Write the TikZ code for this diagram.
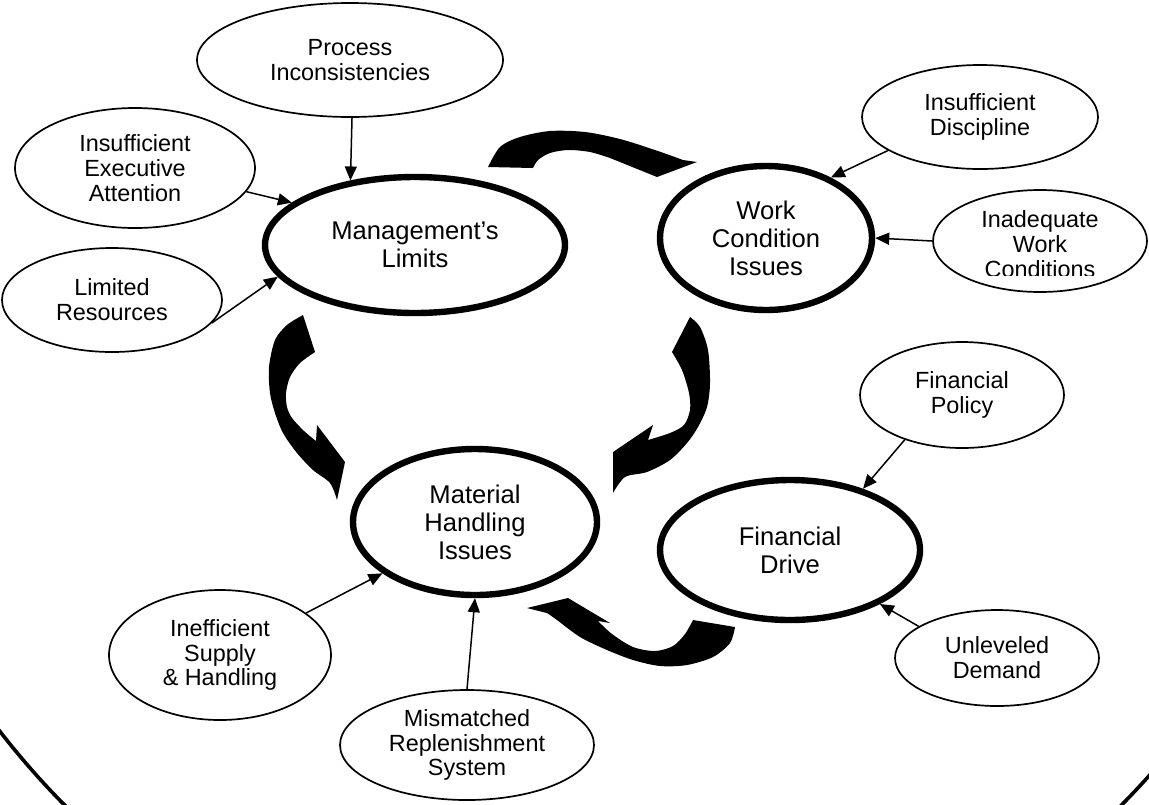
\documentclass[tikz,border=0pt]{standalone}
\usepackage{fontspec}
\setmainfont{Liberation Sans}
\usetikzlibrary{shapes.geometric,arrows.meta}
\begin{document}
\begin{tikzpicture}[x=0.5pt,y=-0.5pt,
  cause/.style={ellipse,draw,line width=0.85pt,inner sep=0pt,align=center,
    font=\fontsize{11.7}{12.4}\selectfont},
  issue/.style={ellipse,draw,line width=3.2pt,inner sep=0pt,align=center,
    font=\fontsize{12.8}{14}\selectfont},
  link/.style={line width=0.75pt,-{Triangle[length=7pt,width=6pt]}},
  turn/.style={fill=black,draw=none}]

\useasboundingbox (0,0) rectangle (1149,804);

% outer frame, only its lower part falls inside the page
\begin{scope}
  \clip (0,0) rectangle (1149,804);
  \draw[line width=1.8pt] (593,200) ellipse [x radius=386pt, y radius=415pt];
\end{scope}

% core issues
\node[issue,minimum width=150pt,minimum height=68pt] (mgmt) at (415,245) {Management’s\\Limits};
\node[issue,minimum width=106pt,minimum height=72pt] (work) at (766,238) {Work\\Condition\\Issues};
\node[issue,minimum width=122pt,minimum height=73pt] (mat)  at (475,522) {Material\\Handling\\Issues};
\node[issue,minimum width=130pt,minimum height=70pt] (fin)  at (790,550) {Financial\\Drive};

% contributing causes
\node[cause,minimum width=153pt,minimum height=57pt] (proc)   at (350,60)  {Process\\Inconsistencies};
\node[cause,minimum width=120pt,minimum height=60pt] (exec)   at (135,168) {Insufficient\\Executive\\Attention};
\node[cause,minimum width=110pt,minimum height=52pt] (res)    at (112,300) {Limited\\Resources};
\node[cause,minimum width=118pt,minimum height=52pt] (disc)   at (980,117) {Insufficient\\Discipline};
\node[cause,minimum width=107pt,minimum height=51pt] (inad)   at (1040,241) {};
\begin{scope}
  \clip (900,150) rectangle (1149,275);
  \node[inner sep=0pt,align=center,font=\fontsize{11.7}{12.4}\selectfont] (inadtext) at (1040,244) {Inadequate\\Work\\Conditions};
\end{scope}
\node[cause,minimum width=102pt,minimum height=53pt] (fpol)   at (962,395) {Financial\\Policy};
\node[cause,minimum width=111pt,minimum height=65pt] (supply) at (220,655) {Inefficient\\Supply\\\& Handling};
\node[cause,minimum width=127pt,minimum height=55pt] (repl)   at (467,745) {Mismatched\\Replenishment\\System};
\node[cause,minimum width=102pt,minimum height=48pt] (dem)    at (997,658) {Unleveled\\Demand};

% cause arrows
\draw[link] (proc.-88)   -- (mgmt.135.5);
\draw[link] (exec.-12)   -- (mgmt.161);
\draw[link] (res.-13)    -- (mgmt.193);
\draw[link] (disc.200)   -- (work.43);
\draw[link] (inad.180)   -- (work.0);
\draw[link] (fpol.218)   -- (fin.40);
\draw[link] (dem.158)    -- (fin.-31);
\draw[link] (supply.26)  -- (mat.209);
\draw[link] (repl.north) -- (mat.south);

% curved block arrows of the cycle
\fill[turn] (488,167)
  -- plot[smooth] coordinates {(488,167) (500,147) (520,137) (550,131) (585,132) (620,139) (655,150) (683,160)}
  -- (697,162) -- (657,177) -- (610,158)
  -- plot[smooth] coordinates {(610,158) (590,152) (568,150) (550,153) (538,160) (533,168)}
  -- cycle;

\fill[turn] (303,315) -- (315,352)
  -- plot[smooth] coordinates {(315,352) (300,363) (290,377) (286,393) (287,407) (292,418) (304,431) (316,441)}
  -- (317,425) -- (345,462) -- (337,500)
  -- plot[smooth] coordinates {(337,500) (330,483) (313,470) (297,453) (283,433) (275,413) (270,393) (269,367) (275,340) (287,325) (303,315)}
  -- cycle;

\fill[turn] (690,317) -- (672,352)
  -- plot[smooth] coordinates {(672,352) (682,370) (689,393) (690,410) (684,425) (670,433) (648,440)}
  -- (653,425) -- (613,452) -- (613,493)
  -- plot[smooth] coordinates {(613,493) (625,477) (647,472) (670,460) (687,443) (698,427) (707,407) (710,383) (708,350) (700,327) (690,317)}
  -- cycle;

\fill[turn] (527,608) -- (568,598) -- (610,623) -- (598,621)
  -- plot[smooth] coordinates {(598,621) (612,634) (633,647) (655,651) (673,646) (685,634) (693,620)}
  -- (735,627)
  -- plot[smooth] coordinates {(735,627) (730,643) (713,657) (687,665) (660,666) (633,660) (607,650) (580,637) (557,620) (547,613)}
  -- cycle;

\end{tikzpicture}
\end{document}
